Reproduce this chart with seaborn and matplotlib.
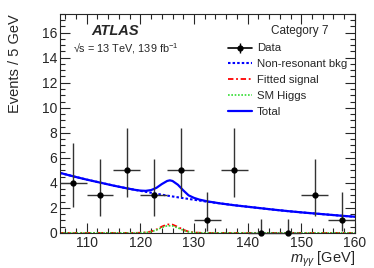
import numpy as np
import pandas as pd
import matplotlib
matplotlib.use('Agg')
import matplotlib.pyplot as plt
import seaborn as sns
from matplotlib.ticker import MultipleLocator
from matplotlib.lines import Line2D

# observed events per 5 GeV bin
bin_centers = [107.5, 112.5, 117.5, 122.5, 127.5, 132.5, 137.5, 142.5, 147.5, 152.5, 157.5]
events = [4, 3, 5, 3, 5, 1, 5, 0, 0, 3, 1]
err_low = [1.91, 1.63, 2.16, 1.63, 2.16, 0.83, 2.16, 0.0, 0.0, 1.63, 0.83]
err_high = [3.16, 2.92, 3.38, 2.92, 3.38, 2.30, 3.38, 1.15, 1.15, 2.92, 2.30]

# non-resonant background curve
bkg_x = [105, 107.5, 110, 112.5, 115, 117.5, 120, 122.5, 125, 127.5, 130, 132.5,
         135, 137.5, 140, 142.5, 145, 147.5, 150, 152.5, 155, 157.5, 160]
bkg_y = [4.80, 4.52, 4.26, 4.02, 3.78, 3.56, 3.36, 3.17, 2.98, 2.81, 2.65, 2.49,
         2.35, 2.21, 2.09, 1.97, 1.85, 1.74, 1.64, 1.55, 1.46, 1.37, 1.29]

# signal shapes
sig_x = [105, 119, 120, 121, 122, 123, 124, 125, 126, 127, 128, 129, 130, 131, 132, 160]
fitted_sig = [0, 0, 0.01, 0.04, 0.11, 0.27, 0.50, 0.68, 0.66, 0.48, 0.25, 0.10, 0.03, 0.01, 0, 0]
sm_higgs = [0, 0, 0.01, 0.03, 0.09, 0.23, 0.42, 0.57, 0.56, 0.40, 0.21, 0.08, 0.02, 0.01, 0, 0]

# total fit
tot_x = [105, 107.5, 110, 112.5, 115, 117.5, 119, 120, 121, 122, 123, 124, 125, 125.5,
         126, 127, 128, 129, 130, 131, 132.5, 135, 137.5, 140, 142.5, 145, 147.5, 150,
         152.5, 155, 157.5, 160]
tot_y = [4.80, 4.52, 4.26, 4.02, 3.78, 3.56, 3.44, 3.38, 3.36, 3.42, 3.60, 3.90, 4.15, 4.20,
         4.15, 3.85, 3.40, 3.00, 2.80, 2.66, 2.52, 2.35, 2.21, 2.09, 1.97, 1.85, 1.74, 1.64,
         1.55, 1.46, 1.37, 1.29]

sns.set_theme(style='ticks')
plt.rcParams['font.family'] = ['Liberation Sans', 'DejaVu Sans']
plt.rcParams['mathtext.fontset'] = 'custom'
plt.rcParams['mathtext.rm'] = 'Liberation Sans'
plt.rcParams['mathtext.it'] = 'Liberation Sans:italic'

fig = plt.figure(figsize=(3.74, 2.68), dpi=100)
ax = fig.add_axes([0.16, 0.131, 0.789, 0.817])

sns.lineplot(x=bkg_x, y=bkg_y, ax=ax, color='#0000ff', lw=1.5, linestyle=(0, (1.2, 1.0)))
sns.lineplot(x=sig_x, y=fitted_sig, ax=ax, color='#ff0000', lw=1.3, linestyle=(0, (3, 1.5, 1, 1.5)))
sns.lineplot(x=sig_x, y=sm_higgs, ax=ax, color='#33dd33', lw=1.2, linestyle=(0, (1, 1)))
sns.lineplot(x=tot_x, y=tot_y, ax=ax, color='#0000ff', lw=1.6)

ax.errorbar(bin_centers, events, yerr=[err_low, err_high], xerr=2.5, fmt='o',
            color='black', ecolor='#333333', elinewidth=1.0, markersize=3.5,
            capsize=0, zorder=5, clip_on=False)

ax.set_xlim(105, 160)
ax.set_ylim(0, 17.5)
ax.xaxis.set_major_locator(MultipleLocator(10))
ax.xaxis.set_minor_locator(MultipleLocator(2))
ax.yaxis.set_major_locator(MultipleLocator(2))
ax.yaxis.set_minor_locator(MultipleLocator(0.5))
ax.tick_params(which='both', direction='in', top=True, right=True, labelsize=10, pad=2, width=0.8)
ax.tick_params(which='major', length=7)
ax.tick_params(which='minor', length=3.5)
for s in ax.spines.values():
    s.set_linewidth(0.8)

ax.set_xlabel(r'$m_{\gamma\gamma}$ [GeV]', fontsize=10.5, loc='right', labelpad=0)
ax.set_ylabel('Events / 5 GeV', fontsize=10.5, loc='top', labelpad=14)

ax.text(0.105, 0.92, 'ATLAS', transform=ax.transAxes, fontsize=10.5,
        fontweight='bold', fontstyle='italic', va='center')
ax.text(0.045, 0.84, '√s = 13 TeV, 139 fb$^{-1}$', transform=ax.transAxes,
        fontsize=7.8, va='center')
ax.text(0.91, 0.92, 'Category 7', transform=ax.transAxes, fontsize=8.5,
        ha='right', va='center')

data_handle = (Line2D([], [], color='black', marker='o', markersize=3.5, lw=1.2),
               Line2D([], [], color='black', marker='|', markersize=7, lw=0))
handles = [
    data_handle,
    Line2D([], [], color='#0000ff', lw=1.5, linestyle=(0, (1.2, 1.0))),
    Line2D([], [], color='#ff0000', lw=1.3, linestyle=(0, (3, 1.5, 1, 1.5))),
    Line2D([], [], color='#33dd33', lw=1.2, linestyle=(0, (1, 1))),
    Line2D([], [], color='#0000ff', lw=1.6),
]
labels = ['Data', 'Non-resonant bkg', 'Fitted signal', 'SM Higgs', 'Total']
ax.legend(handles, labels, loc='upper left', bbox_to_anchor=(0.57, 0.865),
          frameon=False, fontsize=8.2, handlelength=2.1, handletextpad=0.45,
          labelspacing=0.52, borderaxespad=0, borderpad=0)

fig.savefig('out.png', dpi=100)
